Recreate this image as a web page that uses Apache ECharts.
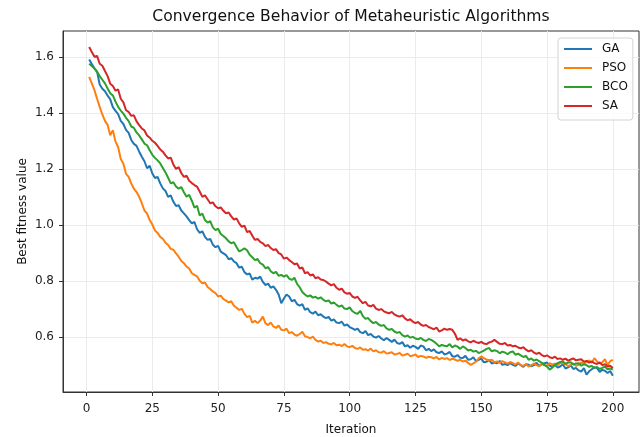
<!DOCTYPE html>
<html>
<head>
<meta charset="utf-8">
<style>
  html, body { margin: 0; padding: 0; background: #fff; }
  #chart { width: 640px; height: 437px; }
</style>
<script src="https://cdn.jsdelivr.net/npm/echarts@6/dist/echarts.min.js"></script>
</head>
<body>
<div id="chart"></div>
<script>
// iterations 1..200
const iterations = Array.from({length: 200}, (_, i) => i + 1);
const xTicks = [0, 25, 50, 75, 100, 125, 150, 175, 200];
const yTicks = [0.6, 0.8, 1.0, 1.2, 1.4, 1.6];
const names = ['GA', 'PSO', 'BCO', 'SA'];
const colors = ['#1f77b4', '#ff7f0e', '#2ca02c', '#d62728'];

const ga = [
  1.591, 1.575, 1.560, 1.548, 1.502, 1.487, 1.478, 1.462, 1.449, 1.421,
  1.408, 1.396, 1.372, 1.361, 1.340, 1.329, 1.304, 1.290, 1.283, 1.262,
  1.244, 1.228, 1.203, 1.212, 1.184, 1.168, 1.172, 1.149, 1.131, 1.122,
  1.101, 1.106, 1.083, 1.068, 1.071, 1.052, 1.042, 1.031, 1.018, 1.006,
  1.011, 0.985, 0.972, 0.978, 0.958, 0.947, 0.951, 0.930, 0.921, 0.926,
  0.905, 0.899, 0.893, 0.878, 0.882, 0.870, 0.864, 0.848, 0.851, 0.832,
  0.824, 0.827, 0.805, 0.812, 0.809, 0.816, 0.797, 0.786, 0.791, 0.776,
  0.781, 0.769, 0.752, 0.721, 0.738, 0.752, 0.745, 0.728, 0.733, 0.718,
  0.712, 0.718, 0.697, 0.703, 0.689, 0.684, 0.691, 0.678, 0.682, 0.673,
  0.668, 0.672, 0.659, 0.663, 0.652, 0.650, 0.655, 0.641, 0.645, 0.636,
  0.631, 0.626, 0.630, 0.618, 0.614, 0.622, 0.607, 0.611, 0.602, 0.598,
  0.604, 0.595, 0.589, 0.597, 0.590, 0.583, 0.591, 0.579, 0.576, 0.582,
  0.567, 0.571, 0.562, 0.569, 0.565, 0.558, 0.570, 0.567, 0.553, 0.558,
  0.550, 0.556, 0.546, 0.543, 0.549, 0.538, 0.541, 0.547, 0.532, 0.530,
  0.536, 0.526, 0.525, 0.533, 0.519, 0.521, 0.528, 0.514, 0.519, 0.523,
  0.510, 0.512, 0.518, 0.506, 0.509, 0.507, 0.515, 0.501, 0.504, 0.500,
  0.508, 0.501, 0.497, 0.506, 0.500, 0.494, 0.503, 0.501, 0.496, 0.500,
  0.508, 0.497, 0.503, 0.507, 0.509, 0.498, 0.494, 0.502, 0.491, 0.495,
  0.503, 0.488, 0.492, 0.499, 0.486, 0.490, 0.481, 0.477, 0.489, 0.466,
  0.478, 0.485, 0.492, 0.490, 0.476, 0.483, 0.480, 0.472, 0.479, 0.462
];

const pso = [
  1.529, 1.506, 1.482, 1.451, 1.422, 1.395, 1.372, 1.358, 1.321, 1.339,
  1.298, 1.279, 1.236, 1.219, 1.183, 1.172, 1.148, 1.130, 1.118, 1.101,
  1.078, 1.052, 1.041, 1.018, 1.002, 0.981, 0.972, 0.958, 0.951, 0.937,
  0.929, 0.915, 0.912, 0.899, 0.887, 0.872, 0.864, 0.852, 0.845, 0.828,
  0.822, 0.817, 0.801, 0.792, 0.795, 0.779, 0.772, 0.763, 0.757, 0.745,
  0.748, 0.736, 0.730, 0.724, 0.728, 0.712, 0.705, 0.697, 0.701, 0.683,
  0.671, 0.676, 0.652, 0.658, 0.650, 0.659, 0.673, 0.649, 0.643, 0.652,
  0.638, 0.633, 0.641, 0.626, 0.624, 0.630, 0.614, 0.618, 0.609, 0.605,
  0.611, 0.619, 0.603, 0.600, 0.596, 0.602, 0.590, 0.584, 0.587, 0.579,
  0.582, 0.576, 0.574, 0.579, 0.571, 0.573, 0.568, 0.575, 0.567, 0.564,
  0.569, 0.561, 0.558, 0.563, 0.555, 0.557, 0.552, 0.559, 0.549, 0.553,
  0.546, 0.545, 0.550, 0.541, 0.543, 0.546, 0.538, 0.540, 0.543, 0.534,
  0.537, 0.541, 0.532, 0.534, 0.538, 0.529, 0.533, 0.531, 0.526, 0.530,
  0.528, 0.524, 0.529, 0.520, 0.526, 0.522, 0.525, 0.518, 0.523, 0.520,
  0.515, 0.519, 0.513, 0.516, 0.508, 0.501, 0.506, 0.512, 0.524, 0.531,
  0.525, 0.520, 0.516, 0.519, 0.510, 0.513, 0.508, 0.514, 0.510, 0.505,
  0.511, 0.507, 0.502, 0.509, 0.500, 0.497, 0.503, 0.495, 0.499, 0.506,
  0.500, 0.496, 0.504, 0.501, 0.498, 0.507, 0.502, 0.505, 0.499, 0.508,
  0.507, 0.503, 0.497, 0.500, 0.506, 0.498, 0.501, 0.509, 0.504, 0.512,
  0.517, 0.508, 0.525, 0.513, 0.506, 0.510, 0.521, 0.500, 0.514, 0.519
];

const bco = [
  1.576, 1.568, 1.559, 1.547, 1.532, 1.519, 1.506, 1.488, 1.471, 1.463,
  1.441, 1.422, 1.409, 1.398, 1.383, 1.371, 1.352, 1.347, 1.331, 1.320,
  1.306, 1.291, 1.285, 1.267, 1.251, 1.240, 1.231, 1.220, 1.204, 1.188,
  1.169, 1.149, 1.153, 1.138, 1.130, 1.136, 1.117, 1.101, 1.108, 1.087,
  1.062, 1.069, 1.034, 1.041, 1.018, 1.009, 1.014, 0.992, 0.982, 0.987,
  0.968, 0.961, 0.953, 0.942, 0.935, 0.939, 0.922, 0.906, 0.911, 0.917,
  0.910, 0.894, 0.885, 0.875, 0.879, 0.864, 0.859, 0.846, 0.850, 0.835,
  0.828, 0.833, 0.819, 0.822, 0.816, 0.821, 0.809, 0.804, 0.812, 0.790,
  0.778, 0.761, 0.752, 0.745, 0.749, 0.741, 0.744, 0.737, 0.742, 0.733,
  0.728, 0.731, 0.720, 0.724, 0.715, 0.709, 0.713, 0.702, 0.700, 0.706,
  0.693, 0.686, 0.683, 0.694, 0.675, 0.665, 0.668, 0.657, 0.650, 0.654,
  0.645, 0.640, 0.643, 0.631, 0.626, 0.629, 0.620, 0.615, 0.618, 0.607,
  0.602, 0.606, 0.598, 0.601, 0.595, 0.592, 0.597, 0.590, 0.586, 0.593,
  0.590, 0.584, 0.576, 0.567, 0.572, 0.569, 0.567, 0.575, 0.563, 0.570,
  0.566, 0.558, 0.567, 0.561, 0.552, 0.555, 0.548, 0.551, 0.543, 0.547,
  0.552, 0.558, 0.561, 0.549, 0.553, 0.550, 0.542, 0.548, 0.545, 0.539,
  0.546, 0.549, 0.537, 0.541, 0.535, 0.529, 0.533, 0.519, 0.524, 0.516,
  0.520, 0.514, 0.508, 0.500, 0.495, 0.484, 0.491, 0.500, 0.507, 0.511,
  0.513, 0.505, 0.509, 0.510, 0.502, 0.506, 0.507, 0.498, 0.503, 0.500,
  0.494, 0.497, 0.490, 0.493, 0.486, 0.490, 0.495, 0.485, 0.488, 0.484
];

const sa = [
  1.636, 1.618, 1.601, 1.604, 1.576, 1.569, 1.550, 1.532, 1.505, 1.497,
  1.480, 1.484, 1.451, 1.438, 1.410, 1.404, 1.390, 1.392, 1.370, 1.357,
  1.345, 1.338, 1.320, 1.312, 1.301, 1.294, 1.283, 1.270, 1.262, 1.249,
  1.238, 1.241, 1.216, 1.200, 1.207, 1.186, 1.172, 1.176, 1.158, 1.150,
  1.143, 1.137, 1.120, 1.101, 1.106, 1.092, 1.078, 1.081, 1.067, 1.060,
  1.063, 1.051, 1.042, 1.045, 1.031, 1.020, 1.024, 1.006, 0.994, 0.998,
  0.975, 0.979, 0.962, 0.947, 0.951, 0.940, 0.935, 0.925, 0.929, 0.918,
  0.911, 0.914, 0.900, 0.895, 0.880, 0.884, 0.875, 0.868, 0.860, 0.863,
  0.845, 0.849, 0.828, 0.832, 0.820, 0.824, 0.810, 0.814, 0.806, 0.804,
  0.798, 0.791, 0.785, 0.789, 0.776, 0.769, 0.773, 0.760, 0.755, 0.758,
  0.745, 0.740, 0.744, 0.731, 0.721, 0.726, 0.713, 0.710, 0.715, 0.702,
  0.697, 0.700, 0.692, 0.688, 0.685, 0.690, 0.681, 0.676, 0.673, 0.678,
  0.667, 0.660, 0.664, 0.655, 0.650, 0.654, 0.645, 0.640, 0.643, 0.636,
  0.632, 0.628, 0.634, 0.620, 0.624, 0.630, 0.626, 0.629, 0.626, 0.612,
  0.590, 0.596, 0.588, 0.592, 0.585, 0.581, 0.587, 0.582, 0.579, 0.583,
  0.577, 0.575, 0.581, 0.584, 0.590, 0.583, 0.576, 0.575, 0.579, 0.570,
  0.572, 0.567, 0.569, 0.563, 0.560, 0.564, 0.555, 0.549, 0.553, 0.545,
  0.540, 0.544, 0.536, 0.531, 0.535, 0.528, 0.525, 0.530, 0.522, 0.524,
  0.519, 0.523, 0.516, 0.520, 0.524, 0.517, 0.519, 0.521, 0.512, 0.515,
  0.509, 0.513, 0.507, 0.504, 0.510, 0.500, 0.503, 0.495, 0.498, 0.490
];

const seriesValues = [ga, pso, bco, sa];
const font = 'DejaVu Sans';

let chart = echarts.init(document.getElementById('chart'), null, {renderer: 'canvas'});

let option = {
  animation: false,
  backgroundColor: '#fff',
  title: {
    text: 'Convergence Behavior of Metaheuristic Algorithms',
    left: 346,
    top: 4,
    textAlign: 'center',
    textStyle: {fontFamily: font, fontSize: 15.6, fontWeight: 'normal', color: '#111'}
  },
  legend: {
    orient: 'vertical',
    left: 558,
    top: 38,
    padding: [5, 5, 8, 5],
    itemWidth: 28,
    itemHeight: 14,
    itemGap: 7,
    itemStyle: {opacity: 0},
    backgroundColor: 'rgba(255,255,255,0.8)',
    borderColor: '#d3d3d3',
    borderWidth: 1,
    borderRadius: 3,
    textStyle: {fontFamily: font, fontSize: 12, color: '#111', padding: [0, 0, 0, 5]},
    data: names
  },
  grid: {
    left: 63, right: 1, top: 31, bottom: 45,
    outerBoundsMode: 'none',
    show: true, borderColor: '#333', borderWidth: 1
  },
  xAxis: {
    type: 'value',
    min: -8.95,
    max: 209.95,
    name: 'Iteration',
    nameLocation: 'middle',
    nameGap: 32,
    nameMoveOverlap: false,
    nameTextStyle: {fontFamily: font, fontSize: 12, color: '#111'},
    axisLine: {show: true, onZero: false, lineStyle: {color: '#333'}},
    axisTick: {show: true, length: 4, customValues: xTicks, lineStyle: {color: '#333'}},
    axisLabel: {customValues: xTicks, margin: 11, fontFamily: font, fontSize: 12, color: '#222'},
    splitLine: {show: true, lineStyle: {color: '#ebebeb', width: 1}}
  },
  yAxis: {
    type: 'value',
    min: 0.404,
    max: 1.693,
    name: 'Best fitness value',
    nameLocation: 'middle',
    nameGap: 34,
    nameMoveOverlap: false,
    nameTextStyle: {fontFamily: font, fontSize: 12, color: '#111'},
    axisLine: {show: true, onZero: false, lineStyle: {color: '#333'}},
    axisTick: {show: true, length: 4, customValues: yTicks, lineStyle: {color: '#333'}},
    axisLabel: {
      customValues: yTicks, margin: 9, fontFamily: font, fontSize: 12, color: '#222',
      formatter: v => v.toFixed(1)
    },
    splitLine: {show: true, lineStyle: {color: '#ebebeb', width: 1}}
  },
  series: names.map((n, k) => ({
    name: n,
    type: 'line',
    symbol: 'none',
    showSymbol: false,
    color: colors[k],
    lineStyle: {width: 2, color: colors[k]},
    data: iterations.map((it, i) => [it, seriesValues[k][i]])
  }))
};

chart.setOption(option);
</script>
</body>
</html>
